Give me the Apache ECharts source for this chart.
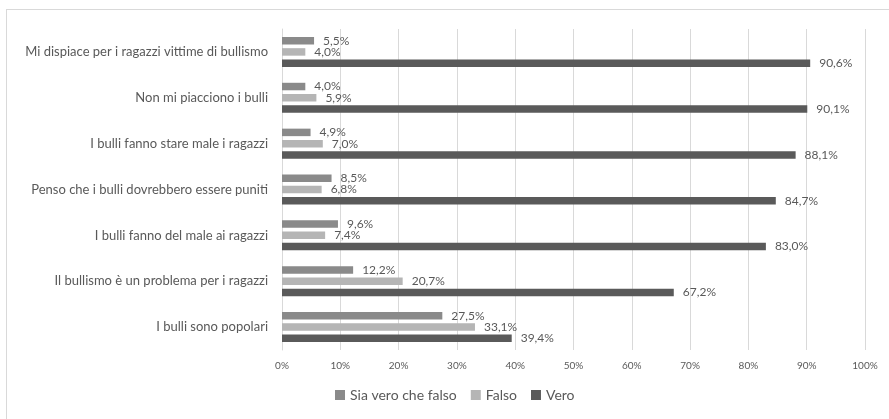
<!DOCTYPE html>
<html>
<head>
    <meta charset="utf-8">
    <title>Bullismo</title>
    <script src="https://cdn.jsdelivr.net/npm/echarts@6/dist/echarts.min.js"></script>
    <style>
        html, body { margin: 0; padding: 0; background: #fff; }
        #frame {
            position: absolute; left: 6px; top: 9px; width: 900px; height: 420px;
            border-top: 1px solid #d9d9d9; border-left: 1px solid #d9d9d9;
        }
        #chart { position: absolute; left: 0; top: 0; width: 889px; height: 419px; }
    </style>
</head>
<body>
<div id="frame"></div>
<div id="chart"></div>
<script>
    var categories = [
        'Mi dispiace per i ragazzi vittime di bullismo',
        'Non mi piacciono i bulli',
        'I bulli fanno stare male i ragazzi',
        'Penso che i bulli dovrebbero essere puniti',
        'I bulli fanno del male ai ragazzi',
        'Il bullismo è un problema per i ragazzi',
        'I bulli sono popolari'
    ];
    var siaVeroCheFalso = [5.5, 4.0, 4.9, 8.5, 9.6, 12.2, 27.5];
    var falso = [4.0, 5.9, 7.0, 6.8, 7.4, 20.7, 33.1];
    var vero = [90.6, 90.1, 88.1, 84.7, 83.0, 67.2, 39.4];

    var COLORS = ['#8a8a8a', '#b5b5b5', '#5a5a5a'];
    var FONT = 'Lato';

    function makeSeries(name, data, color) {
        return {
            name: name,
            type: 'bar',
            data: data,
            barWidth: 7.5,
            barGap: '50%',
            itemStyle: { color: color },
            label: {
                show: true,
                position: 'right',
                distance: 9,
                color: '#595959',
                fontFamily: FONT,
                fontSize: 12,
                formatter: function (p) {
                    return p.value.toFixed(1).replace('.', ',') + '%';
                }
            }
        };
    }

    var chart = echarts.init(document.getElementById('chart'));
    chart.setOption({
        animation: false,
        textStyle: { fontFamily: FONT },
        grid: { left: 282, right: 24, top: 29, bottom: 69 },
        legend: {
            bottom: 12,
            left: 330,
            itemWidth: 10,
            itemHeight: 10,
            itemGap: 14,
            itemTextGap: 3,
            icon: 'rect',
            textStyle: { color: '#595959', fontSize: 14, fontFamily: FONT },
            data: ['Sia vero che falso', 'Falso', 'Vero']
        },
        xAxis: {
            type: 'value',
            min: 0,
            max: 100,
            interval: 10,
            axisLine: { show: false },
            axisTick: { show: false },
            splitLine: { lineStyle: { color: '#d9d9d9' } },
            axisLabel: {
                formatter: '{value}%',
                color: '#595959',
                fontSize: 10,
                margin: 11,
                fontFamily: FONT
            }
        },
        yAxis: {
            type: 'category',
            inverse: true,
            data: categories,
            axisLine: { show: true, lineStyle: { color: '#d9d9d9' } },
            axisTick: { show: false },
            axisLabel: {
                color: '#595959',
                fontSize: 13,
                margin: 14,
                fontFamily: FONT
            }
        },
        series: [
            makeSeries('Sia vero che falso', siaVeroCheFalso, COLORS[0]),
            makeSeries('Falso', falso, COLORS[1]),
            makeSeries('Vero', vero, COLORS[2])
        ]
    });
</script>
</body>
</html>
